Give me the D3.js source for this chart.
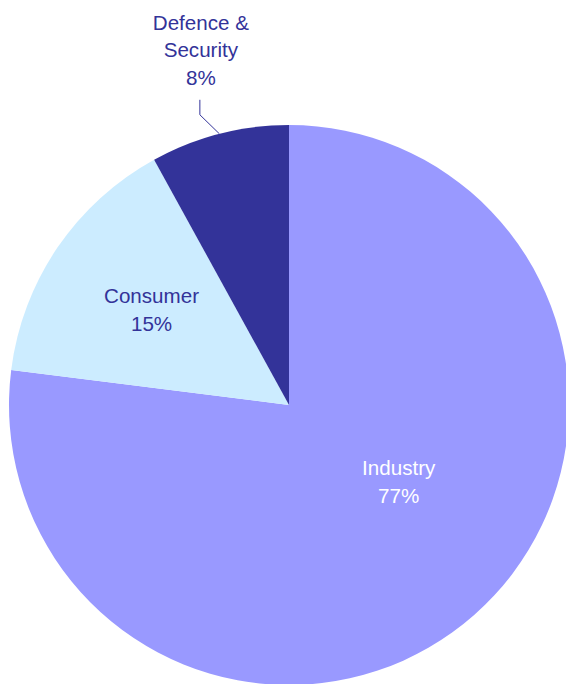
<!DOCTYPE html>
<html>
<head>
<meta charset="utf-8">
<script src="https://cdn.jsdelivr.net/npm/d3@7"></script>
<style>
  html, body { margin: 0; padding: 0; background: #ffffff; }
  svg { display: block; }
</style>
</head>
<body>
<div id="chart"></div>
<script>
// slice data, in drawing order (clockwise from 12 o'clock)
const categories = ["Industry", "Consumer", "Defence & Security"];
const shares = [77, 15, 8];
const labelLines = [["Industry"], ["Consumer"], ["Defence &", "Security"]];

const colours = ["#9999FF", "#CCECFF", "#333399"];
const textColours = ["#FFFFFF", "#333399", "#333399"];

const width = 566;
const height = 684;
const cx = 289;
const cy = 405;
const radius = 280;
const lineGap = 27.5;

const svg = d3.select("#chart")
  .append("svg")
  .attr("width", width)
  .attr("height", height)
  .attr("viewBox", [0, 0, width, height]);

const data = categories.map((c, i) => ({ name: c, value: shares[i], lines: labelLines[i], i: i }));

const pie = d3.pie()
  .value(d => d.value)
  .sort(null);

const arcs = pie(data);

const arc = d3.arc().innerRadius(0).outerRadius(radius);

const g = svg.append("g").attr("transform", `translate(${cx},${cy})`);

g.selectAll("path")
  .data(arcs)
  .join("path")
  .attr("d", arc)
  .attr("fill", d => colours[d.data.i]);

// label placement: radius fraction + small nudge, like the spreadsheet did it
const labelPlace = [
  { frac: 0.49, nudge: [19, -19], inside: true },
  { frac: 0.585, nudge: [-2, 4], inside: true },
  { frac: 1.0, nudge: [0, 0], inside: false }
];

arcs.forEach(a => {
  const i = a.data.i;
  const p = labelPlace[i];
  const rr = radius * p.frac;
  const c = d3.arc().innerRadius(rr).outerRadius(rr).centroid(a);
  const lines = a.data.lines.concat([a.data.value + "%"]);

  let x, firstBase;
  if (p.inside) {
    x = c[0] + p.nudge[0];
    const mid = c[1] + p.nudge[1];
    firstBase = mid - (lines.length - 1) * lineGap / 2;
  } else {
    // leader line out of the slice, bends, then goes straight up
    const elbow = [c[0] - 19.5, c[1] - 19];
    const top = [elbow[0], elbow[1] - 15];
    g.append("polyline")
      .attr("points", [c, elbow, top].map(q => q.join(",")).join(" "))
      .attr("fill", "none")
      .attr("stroke", "#333399")
      .attr("stroke-width", 1);
    x = top[0] + 1;
    firstBase = top[1] - 15 - (lines.length - 1) * lineGap;
  }

  const t = g.append("text")
    .attr("text-anchor", "middle")
    .attr("font-family", "'Liberation Sans', Arial, sans-serif")
    .attr("font-size", "20.6px")
    .attr("fill", textColours[i]);

  lines.forEach((ln, k) => {
    t.append("tspan")
      .attr("x", x)
      .attr("y", firstBase + k * lineGap)
      .text(ln);
  });
});
</script>
</body>
</html>
